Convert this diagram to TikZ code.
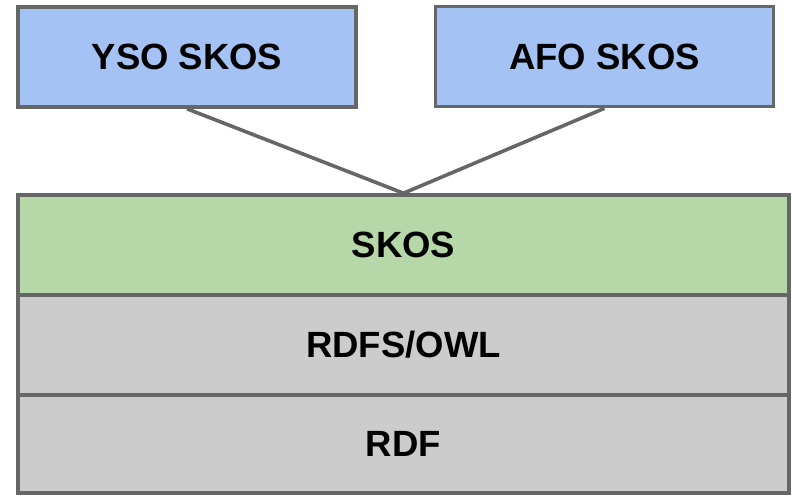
\documentclass[tikz,border=0pt]{standalone}
\usepackage{fontspec}
\setmainfont{Liberation Sans}
\definecolor{vocblue}{HTML}{A4C2F4}
\definecolor{skosgreen}{HTML}{B6D7A8}
\definecolor{layergray}{HTML}{CCCCCC}
\definecolor{linegray}{HTML}{666666}
\begin{document}
\begin{tikzpicture}[x=1pt, y=-1pt, node distance=100pt, layer/.style={rectangle, draw=linegray, line width=3.6pt, minimum width=771pt, minimum height=100pt, inner sep=0pt, font=\fontsize{36.5}{44}\selectfont\bfseries}, vocab/.style={layer, fill=vocblue, minimum width=338pt}, link/.style={draw=linegray, line width=3.6pt}]

  \useasboundingbox (0,0) rectangle (792,495);

  \node[vocab] (yso) at (187,57) {YSO SKOS};
  \node[vocab] (afo) at (604.5,56.5) {AFO SKOS};

  \node[layer, fill=skosgreen] (skos) at (403.5,245) {SKOS};
  \node[layer, fill=layergray, below of=skos] (rdfs) {RDFS/OWL};
  \node[layer, fill=layergray, below of=rdfs, node distance=99pt, minimum height=98pt] (rdf) {RDF};

  \draw[link] (yso.south) -- (skos.north);
  \draw[link] (afo.south) -- (skos.north);
\end{tikzpicture}
\end{document}
